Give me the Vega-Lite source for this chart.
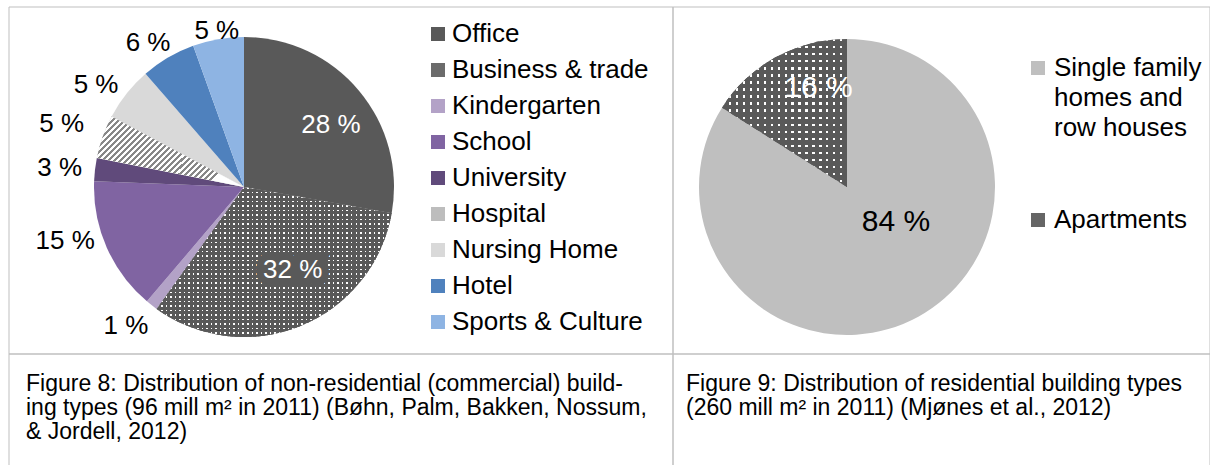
{
  "$schema": "https://vega.github.io/schema/vega-lite/v6.json",
  "padding": {"left": 8, "top": 6, "right": 0, "bottom": 0},
  "columns": 2,
  "spacing": 0,
  "bounds": "flush",
  "config": {
    "view": {"stroke": null},
    "font": "Liberation Sans",
    "concat": {"spacing": 0},
    "style": {"guide-label": {"lineHeight": 30}}
  },
  "resolve": {"scale": {"color": "independent", "theta": "independent", "x": "independent", "y": "independent"}, "legend": {"color": "independent"}},
  "concat": [
    {
      "width": 664,
      "height": 347,
      "layer": [
        {"data": {"values": [{}]}, "mark": {"type": "rect", "filled": false, "stroke": "#bfbfbf", "strokeWidth": 1}, "encoding": {}},
        {
          "data": {"values": [
            {"type": "Office", "share": 27.8, "label": "28 %"},
            {"type": "Business & trade", "share": 32.1, "label": "32 %"},
            {"type": "Kindergarten", "share": 1.3, "label": "1 %"},
            {"type": "School", "share": 14.4, "label": "15 %"},
            {"type": "University", "share": 2.5, "label": "3 %"},
            {"type": "Hospital", "share": 4.7, "label": "5 %"},
            {"type": "Nursing Home", "share": 5.8, "label": "5 %"},
            {"type": "Hotel", "share": 5.9, "label": "6 %"},
            {"type": "Sports & Culture", "share": 5.5, "label": "5 %"}
          ]},
          "transform": [{"window": [{"op": "row_number", "as": "rank"}]}],
          "encoding": {
            "theta": {"field": "share", "type": "quantitative", "stack": true},
            "order": {"field": "rank", "type": "quantitative"},
            "detail": {"field": "type", "type": "nominal"}
          },
          "layer": [
            {
              "mark": {"type": "arc", "outerRadius": 150, "x": 235, "y": 180},
              "encoding": {
                "color": {
                  "field": "type", "type": "nominal",
                  "scale": {
                    "domain": ["Office", "Business & trade", "Kindergarten", "School", "University", "Hospital", "Nursing Home", "Hotel", "Sports & Culture"],
                    "range": ["#595959", "#6b6b6b", "#b3a2c7", "#8064a2", "#604a7b", "#bdbdbd", "#d9d9d9", "#4f81bd", "#8eb4e3"]
                  },
                  "legend": {
                    "orient": "none", "legendX": 416, "legendY": 14, "title": null,
                    "symbolType": "square", "symbolSize": 196, "symbolStrokeWidth": 0,
                    "labelFontSize": 26, "labelFont": "Liberation Sans", "labelColor": "#000000",
                    "rowPadding": 10, "labelOffset": 1, "labelLimit": 400
                  }
                }
              }
            },
            {
              "mark": {"type": "arc", "outerRadius": 150, "x": 235, "y": 180,
                "fill": {"gradient": "linear", "x1": 0, "y1": 0, "x2": 0, "y2": 1, "stops": [
                  {"offset":0,"color":"#fff"},
                  {"offset":0.0101,"color":"#fff"},{"offset":0.0101,"color":"#595959"},
                  {"offset":0.0303,"color":"#595959"},{"offset":0.0303,"color":"#fff"},
                  {"offset":0.0404,"color":"#fff"},{"offset":0.0404,"color":"#595959"},
                  {"offset":0.0606,"color":"#595959"},{"offset":0.0606,"color":"#fff"},
                  {"offset":0.0707,"color":"#fff"},{"offset":0.0707,"color":"#595959"},
                  {"offset":0.0909,"color":"#595959"},{"offset":0.0909,"color":"#fff"},
                  {"offset":0.1010,"color":"#fff"},{"offset":0.1010,"color":"#595959"},
                  {"offset":0.1212,"color":"#595959"},{"offset":0.1212,"color":"#fff"},
                  {"offset":0.1313,"color":"#fff"},{"offset":0.1313,"color":"#595959"},
                  {"offset":0.1515,"color":"#595959"},{"offset":0.1515,"color":"#fff"},
                  {"offset":0.1616,"color":"#fff"},{"offset":0.1616,"color":"#595959"},
                  {"offset":0.1818,"color":"#595959"},{"offset":0.1818,"color":"#fff"},
                  {"offset":0.1919,"color":"#fff"},{"offset":0.1919,"color":"#595959"},
                  {"offset":0.2121,"color":"#595959"},{"offset":0.2121,"color":"#fff"},
                  {"offset":0.2222,"color":"#fff"},{"offset":0.2222,"color":"#595959"},
                  {"offset":0.2424,"color":"#595959"},{"offset":0.2424,"color":"#fff"},
                  {"offset":0.2525,"color":"#fff"},{"offset":0.2525,"color":"#595959"},
                  {"offset":0.2727,"color":"#595959"},{"offset":0.2727,"color":"#fff"},
                  {"offset":0.2828,"color":"#fff"},{"offset":0.2828,"color":"#595959"},
                  {"offset":0.3030,"color":"#595959"},{"offset":0.3030,"color":"#fff"},
                  {"offset":0.3131,"color":"#fff"},{"offset":0.3131,"color":"#595959"},
                  {"offset":0.3333,"color":"#595959"},{"offset":0.3333,"color":"#fff"},
                  {"offset":0.3434,"color":"#fff"},{"offset":0.3434,"color":"#595959"},
                  {"offset":0.3636,"color":"#595959"},{"offset":0.3636,"color":"#fff"},
                  {"offset":0.3737,"color":"#fff"},{"offset":0.3737,"color":"#595959"},
                  {"offset":0.3939,"color":"#595959"},{"offset":0.3939,"color":"#fff"},
                  {"offset":0.4040,"color":"#fff"},{"offset":0.4040,"color":"#595959"},
                  {"offset":0.4242,"color":"#595959"},{"offset":0.4242,"color":"#fff"},
                  {"offset":0.4343,"color":"#fff"},{"offset":0.4343,"color":"#595959"},
                  {"offset":0.4545,"color":"#595959"},{"offset":0.4545,"color":"#fff"},
                  {"offset":0.4646,"color":"#fff"},{"offset":0.4646,"color":"#595959"},
                  {"offset":0.4848,"color":"#595959"},{"offset":0.4848,"color":"#fff"},
                  {"offset":0.4949,"color":"#fff"},{"offset":0.4949,"color":"#595959"},
                  {"offset":0.5152,"color":"#595959"},{"offset":0.5152,"color":"#fff"},
                  {"offset":0.5253,"color":"#fff"},{"offset":0.5253,"color":"#595959"},
                  {"offset":0.5455,"color":"#595959"},{"offset":0.5455,"color":"#fff"},
                  {"offset":0.5556,"color":"#fff"},{"offset":0.5556,"color":"#595959"},
                  {"offset":0.5758,"color":"#595959"},{"offset":0.5758,"color":"#fff"},
                  {"offset":0.5859,"color":"#fff"},{"offset":0.5859,"color":"#595959"},
                  {"offset":0.6061,"color":"#595959"},{"offset":0.6061,"color":"#fff"},
                  {"offset":0.6162,"color":"#fff"},{"offset":0.6162,"color":"#595959"},
                  {"offset":0.6364,"color":"#595959"},{"offset":0.6364,"color":"#fff"},
                  {"offset":0.6465,"color":"#fff"},{"offset":0.6465,"color":"#595959"},
                  {"offset":0.6667,"color":"#595959"},{"offset":0.6667,"color":"#fff"},
                  {"offset":0.6768,"color":"#fff"},{"offset":0.6768,"color":"#595959"},
                  {"offset":0.6970,"color":"#595959"},{"offset":0.6970,"color":"#fff"},
                  {"offset":0.7071,"color":"#fff"},{"offset":0.7071,"color":"#595959"},
                  {"offset":0.7273,"color":"#595959"},{"offset":0.7273,"color":"#fff"},
                  {"offset":0.7374,"color":"#fff"},{"offset":0.7374,"color":"#595959"},
                  {"offset":0.7576,"color":"#595959"},{"offset":0.7576,"color":"#fff"},
                  {"offset":0.7677,"color":"#fff"},{"offset":0.7677,"color":"#595959"},
                  {"offset":0.7879,"color":"#595959"},{"offset":0.7879,"color":"#fff"},
                  {"offset":0.7980,"color":"#fff"},{"offset":0.7980,"color":"#595959"},
                  {"offset":0.8182,"color":"#595959"},{"offset":0.8182,"color":"#fff"},
                  {"offset":0.8283,"color":"#fff"},{"offset":0.8283,"color":"#595959"},
                  {"offset":0.8485,"color":"#595959"},{"offset":0.8485,"color":"#fff"},
                  {"offset":0.8586,"color":"#fff"},{"offset":0.8586,"color":"#595959"},
                  {"offset":0.8788,"color":"#595959"},{"offset":0.8788,"color":"#fff"},
                  {"offset":0.8889,"color":"#fff"},{"offset":0.8889,"color":"#595959"},
                  {"offset":0.9091,"color":"#595959"},{"offset":0.9091,"color":"#fff"},
                  {"offset":0.9192,"color":"#fff"},{"offset":0.9192,"color":"#595959"},
                  {"offset":0.9394,"color":"#595959"},{"offset":0.9394,"color":"#fff"},
                  {"offset":0.9495,"color":"#fff"},{"offset":0.9495,"color":"#595959"},
                  {"offset":0.9697,"color":"#595959"},{"offset":0.9697,"color":"#fff"},
                  {"offset":0.9798,"color":"#fff"},{"offset":0.9798,"color":"#595959"},
                  {"offset":1,"color":"#595959"}
                ]}
              },
              "encoding": {"fillOpacity": {"condition": {"test": "datum.rank == 2", "value": 1}, "value": 0}}
            },
            {
              "mark": {"type": "arc", "outerRadius": 150, "x": 235, "y": 180,
                "fill": {"gradient": "linear", "x1": 0, "y1": 0, "x2": 1, "y2": 0, "stops": [
                  {"offset":0,"color":"rgba(89,89,89,0)"},
                  {"offset":0.0064,"color":"rgba(89,89,89,0)"},{"offset":0.0064,"color":"#595959"},
                  {"offset":0.0192,"color":"#595959"},{"offset":0.0192,"color":"rgba(89,89,89,0)"},
                  {"offset":0.0256,"color":"rgba(89,89,89,0)"},{"offset":0.0256,"color":"#595959"},
                  {"offset":0.0385,"color":"#595959"},{"offset":0.0385,"color":"rgba(89,89,89,0)"},
                  {"offset":0.0449,"color":"rgba(89,89,89,0)"},{"offset":0.0449,"color":"#595959"},
                  {"offset":0.0577,"color":"#595959"},{"offset":0.0577,"color":"rgba(89,89,89,0)"},
                  {"offset":0.0641,"color":"rgba(89,89,89,0)"},{"offset":0.0641,"color":"#595959"},
                  {"offset":0.0769,"color":"#595959"},{"offset":0.0769,"color":"rgba(89,89,89,0)"},
                  {"offset":0.0833,"color":"rgba(89,89,89,0)"},{"offset":0.0833,"color":"#595959"},
                  {"offset":0.0962,"color":"#595959"},{"offset":0.0962,"color":"rgba(89,89,89,0)"},
                  {"offset":0.1026,"color":"rgba(89,89,89,0)"},{"offset":0.1026,"color":"#595959"},
                  {"offset":0.1154,"color":"#595959"},{"offset":0.1154,"color":"rgba(89,89,89,0)"},
                  {"offset":0.1218,"color":"rgba(89,89,89,0)"},{"offset":0.1218,"color":"#595959"},
                  {"offset":0.1346,"color":"#595959"},{"offset":0.1346,"color":"rgba(89,89,89,0)"},
                  {"offset":0.1410,"color":"rgba(89,89,89,0)"},{"offset":0.1410,"color":"#595959"},
                  {"offset":0.1538,"color":"#595959"},{"offset":0.1538,"color":"rgba(89,89,89,0)"},
                  {"offset":0.1603,"color":"rgba(89,89,89,0)"},{"offset":0.1603,"color":"#595959"},
                  {"offset":0.1731,"color":"#595959"},{"offset":0.1731,"color":"rgba(89,89,89,0)"},
                  {"offset":0.1795,"color":"rgba(89,89,89,0)"},{"offset":0.1795,"color":"#595959"},
                  {"offset":0.1923,"color":"#595959"},{"offset":0.1923,"color":"rgba(89,89,89,0)"},
                  {"offset":0.1987,"color":"rgba(89,89,89,0)"},{"offset":0.1987,"color":"#595959"},
                  {"offset":0.2115,"color":"#595959"},{"offset":0.2115,"color":"rgba(89,89,89,0)"},
                  {"offset":0.2179,"color":"rgba(89,89,89,0)"},{"offset":0.2179,"color":"#595959"},
                  {"offset":0.2308,"color":"#595959"},{"offset":0.2308,"color":"rgba(89,89,89,0)"},
                  {"offset":0.2372,"color":"rgba(89,89,89,0)"},{"offset":0.2372,"color":"#595959"},
                  {"offset":0.25,"color":"#595959"},{"offset":0.25,"color":"rgba(89,89,89,0)"},
                  {"offset":0.2564,"color":"rgba(89,89,89,0)"},{"offset":0.2564,"color":"#595959"},
                  {"offset":0.2692,"color":"#595959"},{"offset":0.2692,"color":"rgba(89,89,89,0)"},
                  {"offset":0.2756,"color":"rgba(89,89,89,0)"},{"offset":0.2756,"color":"#595959"},
                  {"offset":0.2885,"color":"#595959"},{"offset":0.2885,"color":"rgba(89,89,89,0)"},
                  {"offset":0.2949,"color":"rgba(89,89,89,0)"},{"offset":0.2949,"color":"#595959"},
                  {"offset":0.3077,"color":"#595959"},{"offset":0.3077,"color":"rgba(89,89,89,0)"},
                  {"offset":0.3141,"color":"rgba(89,89,89,0)"},{"offset":0.3141,"color":"#595959"},
                  {"offset":0.3269,"color":"#595959"},{"offset":0.3269,"color":"rgba(89,89,89,0)"},
                  {"offset":0.3333,"color":"rgba(89,89,89,0)"},{"offset":0.3333,"color":"#595959"},
                  {"offset":0.3462,"color":"#595959"},{"offset":0.3462,"color":"rgba(89,89,89,0)"},
                  {"offset":0.3526,"color":"rgba(89,89,89,0)"},{"offset":0.3526,"color":"#595959"},
                  {"offset":0.3654,"color":"#595959"},{"offset":0.3654,"color":"rgba(89,89,89,0)"},
                  {"offset":0.3718,"color":"rgba(89,89,89,0)"},{"offset":0.3718,"color":"#595959"},
                  {"offset":0.3846,"color":"#595959"},{"offset":0.3846,"color":"rgba(89,89,89,0)"},
                  {"offset":0.3910,"color":"rgba(89,89,89,0)"},{"offset":0.3910,"color":"#595959"},
                  {"offset":0.4038,"color":"#595959"},{"offset":0.4038,"color":"rgba(89,89,89,0)"},
                  {"offset":0.4103,"color":"rgba(89,89,89,0)"},{"offset":0.4103,"color":"#595959"},
                  {"offset":0.4231,"color":"#595959"},{"offset":0.4231,"color":"rgba(89,89,89,0)"},
                  {"offset":0.4295,"color":"rgba(89,89,89,0)"},{"offset":0.4295,"color":"#595959"},
                  {"offset":0.4423,"color":"#595959"},{"offset":0.4423,"color":"rgba(89,89,89,0)"},
                  {"offset":0.4487,"color":"rgba(89,89,89,0)"},{"offset":0.4487,"color":"#595959"},
                  {"offset":0.4615,"color":"#595959"},{"offset":0.4615,"color":"rgba(89,89,89,0)"},
                  {"offset":0.4679,"color":"rgba(89,89,89,0)"},{"offset":0.4679,"color":"#595959"},
                  {"offset":0.4808,"color":"#595959"},{"offset":0.4808,"color":"rgba(89,89,89,0)"},
                  {"offset":0.4872,"color":"rgba(89,89,89,0)"},{"offset":0.4872,"color":"#595959"},
                  {"offset":0.5,"color":"#595959"},{"offset":0.5,"color":"rgba(89,89,89,0)"},
                  {"offset":0.5064,"color":"rgba(89,89,89,0)"},{"offset":0.5064,"color":"#595959"},
                  {"offset":0.5192,"color":"#595959"},{"offset":0.5192,"color":"rgba(89,89,89,0)"},
                  {"offset":0.5256,"color":"rgba(89,89,89,0)"},{"offset":0.5256,"color":"#595959"},
                  {"offset":0.5385,"color":"#595959"},{"offset":0.5385,"color":"rgba(89,89,89,0)"},
                  {"offset":0.5449,"color":"rgba(89,89,89,0)"},{"offset":0.5449,"color":"#595959"},
                  {"offset":0.5577,"color":"#595959"},{"offset":0.5577,"color":"rgba(89,89,89,0)"},
                  {"offset":0.5641,"color":"rgba(89,89,89,0)"},{"offset":0.5641,"color":"#595959"},
                  {"offset":0.5769,"color":"#595959"},{"offset":0.5769,"color":"rgba(89,89,89,0)"},
                  {"offset":0.5833,"color":"rgba(89,89,89,0)"},{"offset":0.5833,"color":"#595959"},
                  {"offset":0.5962,"color":"#595959"},{"offset":0.5962,"color":"rgba(89,89,89,0)"},
                  {"offset":0.6026,"color":"rgba(89,89,89,0)"},{"offset":0.6026,"color":"#595959"},
                  {"offset":0.6154,"color":"#595959"},{"offset":0.6154,"color":"rgba(89,89,89,0)"},
                  {"offset":0.6218,"color":"rgba(89,89,89,0)"},{"offset":0.6218,"color":"#595959"},
                  {"offset":0.6346,"color":"#595959"},{"offset":0.6346,"color":"rgba(89,89,89,0)"},
                  {"offset":0.6410,"color":"rgba(89,89,89,0)"},{"offset":0.6410,"color":"#595959"},
                  {"offset":0.6538,"color":"#595959"},{"offset":0.6538,"color":"rgba(89,89,89,0)"},
                  {"offset":0.6603,"color":"rgba(89,89,89,0)"},{"offset":0.6603,"color":"#595959"},
                  {"offset":0.6731,"color":"#595959"},{"offset":0.6731,"color":"rgba(89,89,89,0)"},
                  {"offset":0.6795,"color":"rgba(89,89,89,0)"},{"offset":0.6795,"color":"#595959"},
                  {"offset":0.6923,"color":"#595959"},{"offset":0.6923,"color":"rgba(89,89,89,0)"},
                  {"offset":0.6987,"color":"rgba(89,89,89,0)"},{"offset":0.6987,"color":"#595959"},
                  {"offset":0.7115,"color":"#595959"},{"offset":0.7115,"color":"rgba(89,89,89,0)"},
                  {"offset":0.7179,"color":"rgba(89,89,89,0)"},{"offset":0.7179,"color":"#595959"},
                  {"offset":0.7308,"color":"#595959"},{"offset":0.7308,"color":"rgba(89,89,89,0)"},
                  {"offset":0.7372,"color":"rgba(89,89,89,0)"},{"offset":0.7372,"color":"#595959"},
                  {"offset":0.75,"color":"#595959"},{"offset":0.75,"color":"rgba(89,89,89,0)"},
                  {"offset":0.7564,"color":"rgba(89,89,89,0)"},{"offset":0.7564,"color":"#595959"},
                  {"offset":0.7692,"color":"#595959"},{"offset":0.7692,"color":"rgba(89,89,89,0)"},
                  {"offset":0.7756,"color":"rgba(89,89,89,0)"},{"offset":0.7756,"color":"#595959"},
                  {"offset":0.7885,"color":"#595959"},{"offset":0.7885,"color":"rgba(89,89,89,0)"},
                  {"offset":0.7949,"color":"rgba(89,89,89,0)"},{"offset":0.7949,"color":"#595959"},
                  {"offset":0.8077,"color":"#595959"},{"offset":0.8077,"color":"rgba(89,89,89,0)"},
                  {"offset":0.8141,"color":"rgba(89,89,89,0)"},{"offset":0.8141,"color":"#595959"},
                  {"offset":0.8269,"color":"#595959"},{"offset":0.8269,"color":"rgba(89,89,89,0)"},
                  {"offset":0.8333,"color":"rgba(89,89,89,0)"},{"offset":0.8333,"color":"#595959"},
                  {"offset":0.8462,"color":"#595959"},{"offset":0.8462,"color":"rgba(89,89,89,0)"},
                  {"offset":0.8526,"color":"rgba(89,89,89,0)"},{"offset":0.8526,"color":"#595959"},
                  {"offset":0.8654,"color":"#595959"},{"offset":0.8654,"color":"rgba(89,89,89,0)"},
                  {"offset":0.8718,"color":"rgba(89,89,89,0)"},{"offset":0.8718,"color":"#595959"},
                  {"offset":0.8846,"color":"#595959"},{"offset":0.8846,"color":"rgba(89,89,89,0)"},
                  {"offset":0.8910,"color":"rgba(89,89,89,0)"},{"offset":0.8910,"color":"#595959"},
                  {"offset":0.9038,"color":"#595959"},{"offset":0.9038,"color":"rgba(89,89,89,0)"},
                  {"offset":0.9103,"color":"rgba(89,89,89,0)"},{"offset":0.9103,"color":"#595959"},
                  {"offset":0.9231,"color":"#595959"},{"offset":0.9231,"color":"rgba(89,89,89,0)"},
                  {"offset":0.9295,"color":"rgba(89,89,89,0)"},{"offset":0.9295,"color":"#595959"},
                  {"offset":0.9423,"color":"#595959"},{"offset":0.9423,"color":"rgba(89,89,89,0)"},
                  {"offset":0.9487,"color":"rgba(89,89,89,0)"},{"offset":0.9487,"color":"#595959"},
                  {"offset":0.9615,"color":"#595959"},{"offset":0.9615,"color":"rgba(89,89,89,0)"},
                  {"offset":0.9679,"color":"rgba(89,89,89,0)"},{"offset":0.9679,"color":"#595959"},
                  {"offset":0.9808,"color":"#595959"},{"offset":0.9808,"color":"rgba(89,89,89,0)"},
                  {"offset":0.9872,"color":"rgba(89,89,89,0)"},{"offset":0.9872,"color":"#595959"},
                  {"offset":1,"color":"#595959"}
                ]}
              },
              "encoding": {"fillOpacity": {"condition": {"test": "datum.rank == 2", "value": 1}, "value": 0}}
            },
            {
              "mark": {"type": "arc", "outerRadius": 150, "x": 235, "y": 180,
                "fill": {"gradient": "linear", "x1": 0, "y1": 0, "x2": 1, "y2": 0.483, "stops": [
                  {"offset":0,"color":"#888"},
                  {"offset":0.0167,"color":"#888"},{"offset":0.0167,"color":"#fff"},
                  {"offset":0.0333,"color":"#fff"},{"offset":0.0333,"color":"#888"},
                  {"offset":0.05,"color":"#888"},{"offset":0.05,"color":"#fff"},
                  {"offset":0.0667,"color":"#fff"},{"offset":0.0667,"color":"#888"},
                  {"offset":0.0833,"color":"#888"},{"offset":0.0833,"color":"#fff"},
                  {"offset":0.1,"color":"#fff"},{"offset":0.1,"color":"#888"},
                  {"offset":0.1167,"color":"#888"},{"offset":0.1167,"color":"#fff"},
                  {"offset":0.1333,"color":"#fff"},{"offset":0.1333,"color":"#888"},
                  {"offset":0.15,"color":"#888"},{"offset":0.15,"color":"#fff"},
                  {"offset":0.1667,"color":"#fff"},{"offset":0.1667,"color":"#888"},
                  {"offset":0.1833,"color":"#888"},{"offset":0.1833,"color":"#fff"},
                  {"offset":0.2,"color":"#fff"},{"offset":0.2,"color":"#888"},
                  {"offset":0.2167,"color":"#888"},{"offset":0.2167,"color":"#fff"},
                  {"offset":0.2333,"color":"#fff"},{"offset":0.2333,"color":"#888"},
                  {"offset":0.25,"color":"#888"},{"offset":0.25,"color":"#fff"},
                  {"offset":0.2667,"color":"#fff"},{"offset":0.2667,"color":"#888"},
                  {"offset":0.2833,"color":"#888"},{"offset":0.2833,"color":"#fff"},
                  {"offset":0.3,"color":"#fff"},{"offset":0.3,"color":"#888"},
                  {"offset":0.3167,"color":"#888"},{"offset":0.3167,"color":"#fff"},
                  {"offset":0.3333,"color":"#fff"},{"offset":0.3333,"color":"#888"},
                  {"offset":0.35,"color":"#888"},{"offset":0.35,"color":"#fff"},
                  {"offset":0.3667,"color":"#fff"},{"offset":0.3667,"color":"#888"},
                  {"offset":0.3833,"color":"#888"},{"offset":0.3833,"color":"#fff"},
                  {"offset":0.4,"color":"#fff"},{"offset":0.4,"color":"#888"},
                  {"offset":0.4167,"color":"#888"},{"offset":0.4167,"color":"#fff"},
                  {"offset":0.4333,"color":"#fff"},{"offset":0.4333,"color":"#888"},
                  {"offset":0.45,"color":"#888"},{"offset":0.45,"color":"#fff"},
                  {"offset":0.4667,"color":"#fff"},{"offset":0.4667,"color":"#888"},
                  {"offset":0.4833,"color":"#888"},{"offset":0.4833,"color":"#fff"},
                  {"offset":0.5,"color":"#fff"},{"offset":0.5,"color":"#888"},
                  {"offset":0.5167,"color":"#888"},{"offset":0.5167,"color":"#fff"},
                  {"offset":0.5333,"color":"#fff"},{"offset":0.5333,"color":"#888"},
                  {"offset":0.55,"color":"#888"},{"offset":0.55,"color":"#fff"},
                  {"offset":0.5667,"color":"#fff"},{"offset":0.5667,"color":"#888"},
                  {"offset":0.5833,"color":"#888"},{"offset":0.5833,"color":"#fff"},
                  {"offset":0.6,"color":"#fff"},{"offset":0.6,"color":"#888"},
                  {"offset":0.6167,"color":"#888"},{"offset":0.6167,"color":"#fff"},
                  {"offset":0.6333,"color":"#fff"},{"offset":0.6333,"color":"#888"},
                  {"offset":0.65,"color":"#888"},{"offset":0.65,"color":"#fff"},
                  {"offset":0.6667,"color":"#fff"},{"offset":0.6667,"color":"#888"},
                  {"offset":0.6833,"color":"#888"},{"offset":0.6833,"color":"#fff"},
                  {"offset":0.7,"color":"#fff"},{"offset":0.7,"color":"#888"},
                  {"offset":0.7167,"color":"#888"},{"offset":0.7167,"color":"#fff"},
                  {"offset":0.7333,"color":"#fff"},{"offset":0.7333,"color":"#888"},
                  {"offset":0.75,"color":"#888"},{"offset":0.75,"color":"#fff"},
                  {"offset":0.7667,"color":"#fff"},{"offset":0.7667,"color":"#888"},
                  {"offset":0.7833,"color":"#888"},{"offset":0.7833,"color":"#fff"},
                  {"offset":0.8,"color":"#fff"},{"offset":0.8,"color":"#888"},
                  {"offset":0.8167,"color":"#888"},{"offset":0.8167,"color":"#fff"},
                  {"offset":0.8333,"color":"#fff"},{"offset":0.8333,"color":"#888"},
                  {"offset":0.85,"color":"#888"},{"offset":0.85,"color":"#fff"},
                  {"offset":0.8667,"color":"#fff"},{"offset":0.8667,"color":"#888"},
                  {"offset":0.8833,"color":"#888"},{"offset":0.8833,"color":"#fff"},
                  {"offset":0.9,"color":"#fff"},{"offset":0.9,"color":"#888"},
                  {"offset":0.9167,"color":"#888"},{"offset":0.9167,"color":"#fff"},
                  {"offset":0.9333,"color":"#fff"},{"offset":0.9333,"color":"#888"},
                  {"offset":0.95,"color":"#888"},{"offset":0.95,"color":"#fff"},
                  {"offset":0.9667,"color":"#fff"},{"offset":0.9667,"color":"#888"},
                  {"offset":0.9833,"color":"#888"},{"offset":0.9833,"color":"#fff"},
                  {"offset":1,"color":"#fff"}
                ]}
              },
              "encoding": {"fillOpacity": {"condition": {"test": "datum.rank == 6", "value": 1}, "value": 0}}
            },
            {
              "mark": {"type": "text", "radius": 103, "x": 235, "y": 180, "dx": 8, "dy": 4, "fill": "#ffffff", "fontSize": 26, "baseline": "middle", "clip": true},
              "encoding": {"text": {"condition": {"test": "datum.rank == 1", "field": "label"}, "value": ""}}
            },
            {
              "mark": {"type": "text", "radius": 100, "x": 235, "y": 180, "dx": 11, "dy": -10, "fill": "#595959", "stroke": "#595959", "strokeWidth": 15, "strokeJoin": "miter", "fontSize": 26, "baseline": "middle", "clip": true},
              "encoding": {"text": {"condition": {"test": "datum.rank == 2", "field": "label"}, "value": ""}}
            },
            {
              "mark": {"type": "text", "radius": 100, "x": 235, "y": 180, "dx": 11, "dy": -10, "fill": "#ffffff", "fontSize": 26, "baseline": "middle", "clip": true},
              "encoding": {"text": {"condition": {"test": "datum.rank == 2", "field": "label"}, "value": ""}}
            },
            {
              "mark": {"type": "text", "radius": 182, "x": 235, "y": 180, "dx": -6, "dy": -4, "fill": "#000000", "fontSize": 26, "align": "center", "baseline": "middle", "clip": true},
              "encoding": {"text": {"condition": {"test": "datum.rank == 3", "field": "label"}, "value": ""}}
            },
            {
              "mark": {"type": "text", "radius": 163, "x": 235, "y": 180, "dy": -12, "fill": "#000000", "fontSize": 26, "align": "right", "baseline": "middle", "clip": true},
              "encoding": {"text": {"condition": {"test": "datum.rank == 4", "field": "label"}, "value": ""}}
            },
            {
              "mark": {"type": "text", "radius": 163, "x": 235, "y": 180, "fill": "#000000", "fontSize": 26, "align": "right", "baseline": "middle", "clip": true},
              "encoding": {"text": {"condition": {"test": "datum.rank == 5", "field": "label"}, "value": ""}}
            },
            {
              "mark": {"type": "text", "radius": 174, "x": 235, "y": 180, "dx": 4, "dy": -5, "fill": "#000000", "fontSize": 26, "align": "right", "baseline": "middle", "clip": true},
              "encoding": {"text": {"condition": {"test": "datum.rank == 6", "field": "label"}, "value": ""}}
            },
            {
              "mark": {"type": "text", "radius": 163, "x": 235, "y": 180, "dx": 2, "fill": "#000000", "fontSize": 26, "align": "right", "baseline": "middle", "clip": true},
              "encoding": {"text": {"condition": {"test": "datum.rank == 7", "field": "label"}, "value": ""}}
            },
            {
              "mark": {"type": "text", "radius": 163, "x": 235, "y": 180, "dx": 9, "dy": -3, "fill": "#000000", "fontSize": 26, "align": "right", "baseline": "middle", "clip": true},
              "encoding": {"text": {"condition": {"test": "datum.rank == 8", "field": "label"}, "value": ""}}
            },
            {
              "mark": {"type": "text", "radius": 158, "x": 235, "y": 180, "fill": "#000000", "fontSize": 26, "align": "center", "baseline": "middle", "clip": true},
              "encoding": {"text": {"condition": {"test": "datum.rank == 9", "field": "label"}, "value": ""}}
            }
          ]
        }
      ]
    },
    {
      "width": 537,
      "height": 347,
      "layer": [
        {"data": {"values": [{}]}, "mark": {"type": "rect", "filled": false, "stroke": "#bfbfbf", "strokeWidth": 1}, "encoding": {}},
        {
          "data": {"values": [
            {"kind": "Single family homes and row houses", "share": 84, "label": "84 %"},
            {"kind": "Apartments", "share": 16, "label": "16 %"}
          ]},
          "transform": [{"window": [{"op": "row_number", "as": "rank"}]}],
          "encoding": {
            "theta": {"field": "share", "type": "quantitative", "stack": true},
            "order": {"field": "rank", "type": "quantitative"},
            "detail": {"field": "kind", "type": "nominal"}
          },
          "layer": [
            {
              "mark": {"type": "arc", "outerRadius": 148, "x": 174, "y": 180},
              "encoding": {
                "color": {
                  "field": "kind", "type": "nominal",
                  "scale": {
                    "domain": ["Single family homes and row houses", "Apartments"],
                    "range": ["#bfbfbf", "#656565"]
                  },
                  "legend": {
                    "orient": "none", "legendX": 352, "legendY": 48, "title": null,
                    "symbolType": "square", "symbolSize": 196, "symbolStrokeWidth": 0,
                    "labelFontSize": 26, "labelFont": "Liberation Sans", "labelColor": "#000000",
                    "rowPadding": 66, "labelOffset": 3, "labelLimit": 400,
                    "labelExpr": "datum.value == 'Apartments' ? 'Apartments' : ['Single family', 'homes and', 'row houses']"
                  }
                }
              }
            },
            {
              "mark": {"type": "arc", "outerRadius": 148, "x": 174, "y": 180,
                "fill": {"gradient": "linear", "x1": 0, "y1": 0, "x2": 0, "y2": 1, "stops": [
                  {"offset":0,"color":"#fff"},
                  {"offset":0.0159,"color":"#fff"},{"offset":0.0159,"color":"#595959"},
                  {"offset":0.0476,"color":"#595959"},{"offset":0.0476,"color":"#fff"},
                  {"offset":0.0635,"color":"#fff"},{"offset":0.0635,"color":"#595959"},
                  {"offset":0.0952,"color":"#595959"},{"offset":0.0952,"color":"#fff"},
                  {"offset":0.1111,"color":"#fff"},{"offset":0.1111,"color":"#595959"},
                  {"offset":0.1429,"color":"#595959"},{"offset":0.1429,"color":"#fff"},
                  {"offset":0.1587,"color":"#fff"},{"offset":0.1587,"color":"#595959"},
                  {"offset":0.1905,"color":"#595959"},{"offset":0.1905,"color":"#fff"},
                  {"offset":0.2063,"color":"#fff"},{"offset":0.2063,"color":"#595959"},
                  {"offset":0.2381,"color":"#595959"},{"offset":0.2381,"color":"#fff"},
                  {"offset":0.2540,"color":"#fff"},{"offset":0.2540,"color":"#595959"},
                  {"offset":0.2857,"color":"#595959"},{"offset":0.2857,"color":"#fff"},
                  {"offset":0.3016,"color":"#fff"},{"offset":0.3016,"color":"#595959"},
                  {"offset":0.3333,"color":"#595959"},{"offset":0.3333,"color":"#fff"},
                  {"offset":0.3492,"color":"#fff"},{"offset":0.3492,"color":"#595959"},
                  {"offset":0.3810,"color":"#595959"},{"offset":0.3810,"color":"#fff"},
                  {"offset":0.3968,"color":"#fff"},{"offset":0.3968,"color":"#595959"},
                  {"offset":0.4286,"color":"#595959"},{"offset":0.4286,"color":"#fff"},
                  {"offset":0.4444,"color":"#fff"},{"offset":0.4444,"color":"#595959"},
                  {"offset":0.4762,"color":"#595959"},{"offset":0.4762,"color":"#fff"},
                  {"offset":0.4921,"color":"#fff"},{"offset":0.4921,"color":"#595959"},
                  {"offset":0.5238,"color":"#595959"},{"offset":0.5238,"color":"#fff"},
                  {"offset":0.5397,"color":"#fff"},{"offset":0.5397,"color":"#595959"},
                  {"offset":0.5714,"color":"#595959"},{"offset":0.5714,"color":"#fff"},
                  {"offset":0.5873,"color":"#fff"},{"offset":0.5873,"color":"#595959"},
                  {"offset":0.6190,"color":"#595959"},{"offset":0.6190,"color":"#fff"},
                  {"offset":0.6349,"color":"#fff"},{"offset":0.6349,"color":"#595959"},
                  {"offset":0.6667,"color":"#595959"},{"offset":0.6667,"color":"#fff"},
                  {"offset":0.6825,"color":"#fff"},{"offset":0.6825,"color":"#595959"},
                  {"offset":0.7143,"color":"#595959"},{"offset":0.7143,"color":"#fff"},
                  {"offset":0.7302,"color":"#fff"},{"offset":0.7302,"color":"#595959"},
                  {"offset":0.7619,"color":"#595959"},{"offset":0.7619,"color":"#fff"},
                  {"offset":0.7778,"color":"#fff"},{"offset":0.7778,"color":"#595959"},
                  {"offset":0.8095,"color":"#595959"},{"offset":0.8095,"color":"#fff"},
                  {"offset":0.8254,"color":"#fff"},{"offset":0.8254,"color":"#595959"},
                  {"offset":0.8571,"color":"#595959"},{"offset":0.8571,"color":"#fff"},
                  {"offset":0.8730,"color":"#fff"},{"offset":0.8730,"color":"#595959"},
                  {"offset":0.9048,"color":"#595959"},{"offset":0.9048,"color":"#fff"},
                  {"offset":0.9206,"color":"#fff"},{"offset":0.9206,"color":"#595959"},
                  {"offset":0.9524,"color":"#595959"},{"offset":0.9524,"color":"#fff"},
                  {"offset":0.9683,"color":"#fff"},{"offset":0.9683,"color":"#595959"},
                  {"offset":1,"color":"#595959"}
                ]}
              },
              "encoding": {"fillOpacity": {"condition": {"test": "datum.rank == 2", "value": 1}, "value": 0}}
            },
            {
              "mark": {"type": "arc", "outerRadius": 148, "x": 174, "y": 180,
                "fill": {"gradient": "linear", "x1": 0, "y1": 0, "x2": 1, "y2": 0, "stops": [
                  {"offset":0,"color":"rgba(89,89,89,0)"},
                  {"offset":0.0185,"color":"rgba(89,89,89,0)"},{"offset":0.0185,"color":"#595959"},
                  {"offset":0.0556,"color":"#595959"},{"offset":0.0556,"color":"rgba(89,89,89,0)"},
                  {"offset":0.0741,"color":"rgba(89,89,89,0)"},{"offset":0.0741,"color":"#595959"},
                  {"offset":0.1111,"color":"#595959"},{"offset":0.1111,"color":"rgba(89,89,89,0)"},
                  {"offset":0.1296,"color":"rgba(89,89,89,0)"},{"offset":0.1296,"color":"#595959"},
                  {"offset":0.1667,"color":"#595959"},{"offset":0.1667,"color":"rgba(89,89,89,0)"},
                  {"offset":0.1852,"color":"rgba(89,89,89,0)"},{"offset":0.1852,"color":"#595959"},
                  {"offset":0.2222,"color":"#595959"},{"offset":0.2222,"color":"rgba(89,89,89,0)"},
                  {"offset":0.2407,"color":"rgba(89,89,89,0)"},{"offset":0.2407,"color":"#595959"},
                  {"offset":0.2778,"color":"#595959"},{"offset":0.2778,"color":"rgba(89,89,89,0)"},
                  {"offset":0.2963,"color":"rgba(89,89,89,0)"},{"offset":0.2963,"color":"#595959"},
                  {"offset":0.3333,"color":"#595959"},{"offset":0.3333,"color":"rgba(89,89,89,0)"},
                  {"offset":0.3519,"color":"rgba(89,89,89,0)"},{"offset":0.3519,"color":"#595959"},
                  {"offset":0.3889,"color":"#595959"},{"offset":0.3889,"color":"rgba(89,89,89,0)"},
                  {"offset":0.4074,"color":"rgba(89,89,89,0)"},{"offset":0.4074,"color":"#595959"},
                  {"offset":0.4444,"color":"#595959"},{"offset":0.4444,"color":"rgba(89,89,89,0)"},
                  {"offset":0.4630,"color":"rgba(89,89,89,0)"},{"offset":0.4630,"color":"#595959"},
                  {"offset":0.5,"color":"#595959"},{"offset":0.5,"color":"rgba(89,89,89,0)"},
                  {"offset":0.5185,"color":"rgba(89,89,89,0)"},{"offset":0.5185,"color":"#595959"},
                  {"offset":0.5556,"color":"#595959"},{"offset":0.5556,"color":"rgba(89,89,89,0)"},
                  {"offset":0.5741,"color":"rgba(89,89,89,0)"},{"offset":0.5741,"color":"#595959"},
                  {"offset":0.6111,"color":"#595959"},{"offset":0.6111,"color":"rgba(89,89,89,0)"},
                  {"offset":0.6296,"color":"rgba(89,89,89,0)"},{"offset":0.6296,"color":"#595959"},
                  {"offset":0.6667,"color":"#595959"},{"offset":0.6667,"color":"rgba(89,89,89,0)"},
                  {"offset":0.6852,"color":"rgba(89,89,89,0)"},{"offset":0.6852,"color":"#595959"},
                  {"offset":0.7222,"color":"#595959"},{"offset":0.7222,"color":"rgba(89,89,89,0)"},
                  {"offset":0.7407,"color":"rgba(89,89,89,0)"},{"offset":0.7407,"color":"#595959"},
                  {"offset":0.7778,"color":"#595959"},{"offset":0.7778,"color":"rgba(89,89,89,0)"},
                  {"offset":0.7963,"color":"rgba(89,89,89,0)"},{"offset":0.7963,"color":"#595959"},
                  {"offset":0.8333,"color":"#595959"},{"offset":0.8333,"color":"rgba(89,89,89,0)"},
                  {"offset":0.8519,"color":"rgba(89,89,89,0)"},{"offset":0.8519,"color":"#595959"},
                  {"offset":0.8889,"color":"#595959"},{"offset":0.8889,"color":"rgba(89,89,89,0)"},
                  {"offset":0.9074,"color":"rgba(89,89,89,0)"},{"offset":0.9074,"color":"#595959"},
                  {"offset":0.9444,"color":"#595959"},{"offset":0.9444,"color":"rgba(89,89,89,0)"},
                  {"offset":0.9630,"color":"rgba(89,89,89,0)"},{"offset":0.9630,"color":"#595959"},
                  {"offset":1,"color":"#595959"}
                ]}
              },
              "encoding": {"fillOpacity": {"condition": {"test": "datum.rank == 2", "value": 1}, "value": 0}}
            },
            {
              "mark": {"type": "text", "radius": 60, "x": 174, "y": 180, "dx": 20, "dy": -18, "fill": "#000000", "fontSize": 30, "baseline": "middle", "clip": true},
              "encoding": {"text": {"condition": {"test": "datum.rank == 1", "field": "label"}, "value": ""}}
            },
            {
              "mark": {"type": "text", "radius": 103, "x": 174, "y": 180, "dx": 21, "dy": -9, "fill": "#ffffff", "fontSize": 30, "baseline": "middle", "clip": true},
              "encoding": {"text": {"condition": {"test": "datum.rank == 2", "field": "label"}, "value": ""}}
            }
          ]
        }
      ]
    },
    {
      "width": 664,
      "height": 130,
      "layer": [
        {"data": {"values": [{}]}, "mark": {"type": "rect", "filled": false, "stroke": "#bfbfbf", "strokeWidth": 1}, "encoding": {}},
        {
          "data": {"values": [
            {"line": 1, "text": "Figure 8: Distribution of non-residential (commercial) build-"},
            {"line": 2, "text": "ing types (96 mill m² in 2011) (Bøhn, Palm, Bakken, Nossum,"},
            {"line": 3, "text": "& Jordell, 2012)"}
          ]},
          "mark": {"type": "text", "align": "left", "baseline": "middle", "fontSize": 23, "dx": 17, "fill": "#000000"},
          "encoding": {
            "x": {"datum": 0, "type": "quantitative", "scale": {"domain": [0, 1]}, "axis": null},
            "y": {"field": "line", "type": "quantitative", "scale": {"domain": [-0.25, 5.167], "reverse": true}, "axis": null},
            "text": {"field": "text"}
          }
        }
      ]
    },
    {
      "width": 537,
      "height": 130,
      "layer": [
        {"data": {"values": [{}]}, "mark": {"type": "rect", "filled": false, "stroke": "#bfbfbf", "strokeWidth": 1}, "encoding": {}},
        {
          "data": {"values": [
            {"line": 1, "text": "Figure 9: Distribution of residential building types"},
            {"line": 2, "text": "(260 mill m² in 2011) (Mjønes et al., 2012)"}
          ]},
          "mark": {"type": "text", "align": "left", "baseline": "middle", "fontSize": 23, "dx": 13, "fill": "#000000"},
          "encoding": {
            "x": {"datum": 0, "type": "quantitative", "scale": {"domain": [0, 1]}, "axis": null},
            "y": {"field": "line", "type": "quantitative", "scale": {"domain": [-0.25, 5.167], "reverse": true}, "axis": null},
            "text": {"field": "text"}
          }
        }
      ]
    }
  ]
}
